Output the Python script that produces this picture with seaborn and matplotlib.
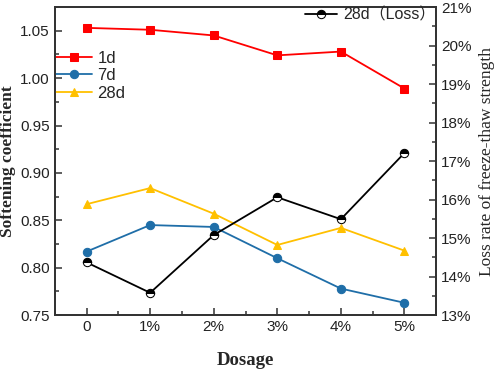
import matplotlib
matplotlib.use('Agg')
from matplotlib import pyplot as plt
from matplotlib.ticker import MultipleLocator, AutoMinorLocator, FuncFormatter
import seaborn as sns
import pandas as pd

# Data
dosage = ['0', '1%', '2%', '3%', '4%', '5%']
soft_1d = [1.053, 1.051, 1.045, 1.024, 1.028, 0.989]
soft_7d = [0.817, 0.845, 0.843, 0.810, 0.778, 0.763]
soft_28d = [0.867, 0.884, 0.857, 0.824, 0.842, 0.818]
loss_28d = [14.37, 13.58, 15.08, 16.06, 15.49, 17.21]

sns.set_style('ticks')
plt.rcParams['font.family'] = ['Liberation Sans', 'Noto Sans CJK SC']

x = list(range(len(dosage)))
df = pd.DataFrame({'x': x, '1d': soft_1d, '7d': soft_7d, '28d': soft_28d, 'loss': loss_28d})

fig, ax = plt.subplots(figsize=(4.98, 3.69), dpi=100)
fig.subplots_adjust(left=0.11, right=0.876, top=0.981, bottom=0.146)

styles = [('1d', '#ff0000', 's'), ('7d', '#1f6ea8', 'o'), ('28d', '#ffc000', '^')]
for name, color, marker in styles:
    sns.lineplot(data=df, x='x', y=name, ax=ax, color=color, marker=marker,
                 markersize=6, markeredgecolor=color, linewidth=1.3, label=name)

ax2 = ax.twinx()
sns.lineplot(data=df, x='x', y='loss', ax=ax2, color='black', marker='o',
             markersize=6, fillstyle='top', markerfacecolor='black',
             markerfacecoloralt='white', markeredgecolor='black',
             linewidth=1.3, label='28d（Loss）')

ax.set_xlim(-0.5, 5.5)
ax.set_ylim(0.75, 1.075)
ax2.set_ylim(13, 21)
ax.set_xticks(x)
ax.set_xticklabels(dosage)
ax.xaxis.set_minor_locator(MultipleLocator(0.5))
ax.yaxis.set_major_locator(MultipleLocator(0.05))
ax.yaxis.set_minor_locator(AutoMinorLocator(2))
ax.yaxis.set_major_formatter(FuncFormatter(lambda v, p: f'{v:.2f}'))
ax2.yaxis.set_major_locator(MultipleLocator(1))
ax2.yaxis.set_minor_locator(AutoMinorLocator(2))
ax2.yaxis.set_major_formatter(FuncFormatter(lambda v, p: f'{v:.0f}%'))

for a in (ax, ax2):
    a.tick_params(which='major', direction='in', length=5, width=1.1, color='#333333',
                  labelsize=11, labelcolor='#222222')
    a.tick_params(which='minor', direction='in', length=3, width=1.1, color='#333333')
    for s in a.spines.values():
        s.set_linewidth(1.3)
        s.set_color('#333333')
ax.tick_params(axis='x', which='both', top=False, bottom=True)
ax.tick_params(axis='y', which='both', left=True)
ax2.tick_params(axis='y', which='both', right=True)

ax.set_xlabel('Dosage', fontsize=13.5, fontweight='bold', family='Liberation Serif', labelpad=13)
ax.set_ylabel('Softening coefficient', fontsize=12.5, fontweight='bold', family='Liberation Serif', labelpad=3)
ax2.set_ylabel('Loss rate of freeze-thaw strength', fontsize=12.5, family='Liberation Serif', labelpad=5)

ax.legend(loc='upper left', bbox_to_anchor=(-0.015, 0.88), frameon=False, fontsize=12,
          handlelength=2.2, handletextpad=0.3, labelspacing=0.15, borderaxespad=0)
ax2.legend(loc='upper right', bbox_to_anchor=(1.02, 1.025), frameon=False, fontsize=11.5,
           handlelength=2.0, handletextpad=0.4, borderaxespad=0.1)

fig.savefig('out.png', dpi=100)
